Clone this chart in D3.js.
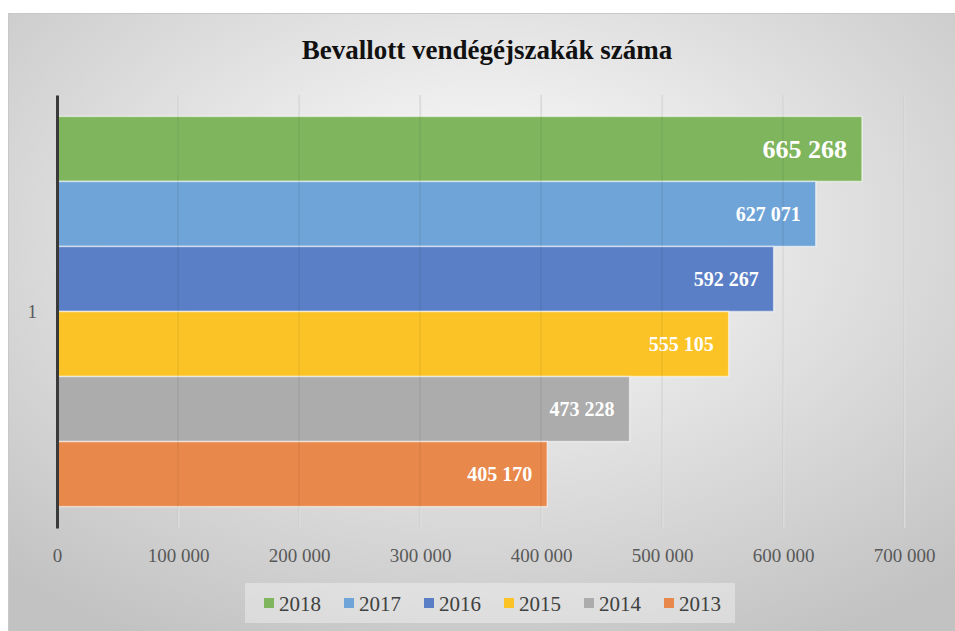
<!DOCTYPE html>
<html lang="hu">
  <head>
    <meta charset="UTF-8" />
    <script src="https://d3js.org/d3.v7.min.js"></script>
    <title>Bevallott vendégéjszakák száma</title>
    <style>
      body { margin: 0; background: #fff; }
      svg { display: block; }
      svg text { font-family: "Liberation Serif", "Times New Roman", "DejaVu Serif", serif; }
    </style>
  </head>
  <body>
    <div id="chart-container"></div>

    <script>
      // data
      const categories = ["1"];
      const years = ["2018", "2017", "2016", "2015", "2014", "2013"];
      const values = [665268, 627071, 592267, 555105, 473228, 405170];
      const colors = ["#7fb55d", "#6ea4d7", "#5a7fc6", "#fbc326", "#acacac", "#e8884a"];
      const xTicks = [0, 100000, 200000, 300000, 400000, 500000, 600000, 700000];

      const W = 955, H = 631;
      const plot = { left: 57, right: 904, top: 95, bottom: 528 };
      const fmt = (v) => d3.format(",")(v).replace(/,/g, "\u00a0");

      const svg = d3
        .select("#chart-container")
        .append("svg")
        .attr("width", W)
        .attr("height", H);

      const defs = svg.append("defs");
      const bg = defs.append("radialGradient")
        .attr("id", "bg")
        .attr("cx", "50%").attr("cy", "35%").attr("r", "75%");
      bg.append("stop").attr("offset", "0%").attr("stop-color", "#ffffff");
      bg.append("stop").attr("offset", "100%").attr("stop-color", "#c2c2c2");

      const gridGrad = defs.append("linearGradient")
        .attr("id", "grid")
        .attr("gradientUnits", "userSpaceOnUse")
        .attr("x1", 0).attr("x2", 0)
        .attr("y1", plot.top).attr("y2", plot.bottom);
      gridGrad.append("stop").attr("offset", "0%").attr("stop-color", "#e4e4e4");
      gridGrad.append("stop").attr("offset", "45%").attr("stop-color", "#c4c4c4");
      gridGrad.append("stop").attr("offset", "100%").attr("stop-color", "#888888");

      // chart area
      svg.append("rect")
        .attr("x", 8.5).attr("y", 13.5)
        .attr("width", W - 8).attr("height", H - 13)
        .attr("fill", "url(#bg)")
        .attr("stroke", "#c8c8c8");

      // title
      svg.append("text")
        .attr("x", 487).attr("y", 59)
        .attr("text-anchor", "middle")
        .attr("font-size", 27)
        .attr("font-weight", "bold")
        .attr("fill", "#111")
        .text("Bevallott vendégéjszakák száma");

      // scales
      const x = d3.scaleLinear().domain([0, 700000]).range([plot.left, plot.right]);
      const y0 = d3.scaleBand().domain(categories).range([plot.top, plot.bottom]).padding(0.052);
      const y1 = d3.scaleBand().domain(years).range([0, y0.bandwidth()]);

      // gridlines under bars
      const grid = svg.append("g")
        .attr("transform", "translate(0," + plot.bottom + ")")
        .call(
          d3.axisBottom(x)
            .tickValues(xTicks.slice(1))
            .tickSizeInner(-(plot.bottom - plot.top))
            .tickSizeOuter(0)
            .tickFormat("")
        );
      grid.select(".domain").remove();
      grid.selectAll("line").attr("stroke", "url(#grid)").attr("stroke-width", 1.5);

      // bars
      const bars = svg.append("g")
        .selectAll("g")
        .data(categories)
        .join("g")
        .attr("transform", (c) => "translate(0," + y0(c) + ")");

      bars.selectAll("rect")
        .data(years.map((yr, i) => ({ year: yr, value: values[i], color: colors[i] })))
        .join("rect")
        .attr("x", x(0))
        .attr("y", (d) => y1(d.year))
        .attr("width", (d) => x(d.value) - x(0))
        .attr("height", y1.bandwidth())
        .attr("fill", (d) => d.color)
        .attr("stroke", "rgba(255,255,255,0.55)")
        .attr("stroke-width", 1.5);

      // gridlines faintly visible through bars
      svg.append("g")
        .selectAll("line")
        .data(xTicks.slice(1))
        .join("line")
        .attr("x1", (d) => x(d)).attr("x2", (d) => x(d))
        .attr("y1", plot.top).attr("y2", plot.bottom)
        .attr("stroke", "rgba(0,0,0,0.06)")
        .attr("stroke-width", 1.5);

      // value labels
      bars.selectAll("text")
        .data(years.map((yr, i) => ({ year: yr, value: values[i] })))
        .join("text")
        .attr("x", (d) => x(d.value) - 15)
        .attr("y", (d) => y1(d.year) + y1.bandwidth() / 2)
        .attr("dy", "0.35em")
        .attr("text-anchor", "end")
        .attr("font-weight", "bold")
        .attr("font-size", (d, i) => (i === 0 ? 26 : 20))
        .attr("fill", "#fff")
        .text((d) => fmt(d.value));

      // x axis labels
      const xAxis = svg.append("g")
        .attr("transform", "translate(0," + plot.bottom + ")")
        .call(
          d3.axisBottom(x)
            .tickValues(xTicks)
            .tickSize(0)
            .tickPadding(21)
            .tickFormat(fmt)
        )
        .attr("font-family", null)
        .attr("font-size", 19);
      xAxis.select(".domain").remove();
      xAxis.selectAll("text").attr("fill", "#595959");

      // y axis
      const yAxis = svg.append("g")
        .attr("transform", "translate(" + plot.left + ",0)")
        .call(d3.axisLeft(y0).tickSize(0).tickPadding(20))
        .attr("font-family", null)
        .attr("font-size", 19);
      yAxis.select(".domain")
        .attr("stroke", "#3a3a3a")
        .attr("stroke-width", 3);
      yAxis.selectAll("text").attr("fill", "#595959");

      // legend
      const legend = svg.append("g");
      legend.append("rect")
        .attr("x", 245).attr("y", 583)
        .attr("width", 490).attr("height", 40)
        .attr("fill", "rgba(255,255,255,0.35)");

      const item = legend.selectAll("g.item")
        .data(years.map((yr, i) => ({ year: yr, color: colors[i] })))
        .join("g")
        .attr("class", "item")
        .attr("transform", (d, i) => "translate(" + (264 + i * 80) + ",598)");
      item.append("rect")
        .attr("width", 10).attr("height", 10)
        .attr("fill", (d) => d.color);
      item.append("text")
        .attr("x", 15).attr("y", 13)
        .attr("font-size", 21)
        .attr("fill", "#404040")
        .text((d) => d.year);
    </script>
  </body>
</html>
